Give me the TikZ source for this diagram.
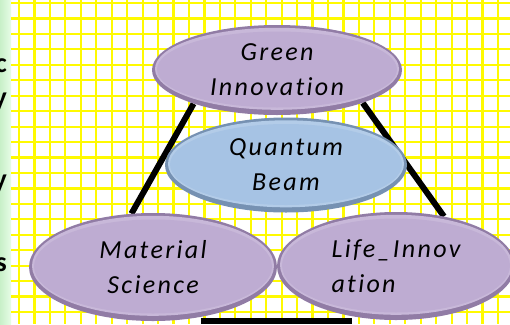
\documentclass[tikz,border=0pt]{standalone}
\usepackage{fontspec}
\setmainfont{Carlito}
\newfontfamily\ellfont[LetterSpace=9,Ligatures={NoCommon}]{Carlito}
\usetikzlibrary{shapes.geometric,backgrounds}
\definecolor{gridyellow}{RGB}{255,250,0}
\definecolor{lilac}{RGB}{190,172,210}
\definecolor{lilacdark}{RGB}{145,124,165}
\definecolor{skyb}{RGB}{166,195,228}
\definecolor{skybdark}{RGB}{118,145,178}
\definecolor{stripg}{RGB}{200,240,200}
\definecolor{stripg2}{RGB}{230,252,230}
\begin{document}
\begin{tikzpicture}[x=1pt,y=-1pt,
  ell/.style n args={4}{ellipse, inner sep=0pt, text=black,
    font=\ellfont\itshape\fontsize{26}{35}\selectfont, align=center,
    fill=#2, minimum width=#3, minimum height=#4,
    path picture={
      \fill[#1!85!white] ([yshift=1.2pt]path picture bounding box.center)
        ellipse [x radius={#3/2-3pt}, y radius={#4/2-4pt}];
      \fill[#1] ([yshift=0.5pt]path picture bounding box.center)
        ellipse [x radius={#3/2-5pt}, y radius={#4/2-7pt}];
    }},
  link/.style={line width=6pt, black},
  edgeletter/.style={font=\bfseries\fontsize{28}{28}\selectfont, anchor=base east, inner sep=0pt, text=black},
  gridline/.style={gridyellow, line width=2.2pt}]
\useasboundingbox (0,0) rectangle (510,324);
\clip (0,0) rectangle (510,324);

\node[ell={lilac}{lilacdark}{250pt}{90pt}] (green) at (277,70) {Green\\Innovation};
\node[ell={skyb}{skybdark}{242pt}{95pt}] (quantum) at (286,165) {Quantum\\Beam};
\node[ell={lilac}{lilacdark}{248pt}{108pt}] (mat) at (153,267) {Material\\Science};
\node[ell={lilac}{lilacdark}{238pt}{108pt}, align=left] (life) at (396,266) {Life\_Innov\\ation};

\begin{pgfonlayer}{background}
  \fill[white] (0,0) rectangle (510,324);
  \shade[left color=stripg, right color=stripg2] (0,0) rectangle (11,324);
  \foreach \i in {0,...,32} \draw[gridline] ({19+15.45*\i},0) -- ({19+15.45*\i},324);
  \foreach \j in {0,...,20} \draw[gridline] (11,{3+15.45*\j}) -- (510,{3+15.45*\j});
  \draw[link] (green.202) -- (mat.112);
  \draw[link] (green.339) -- (life.46);
  \node[edgeletter] (l1) at (7,72) {c};
  \node[edgeletter] (l2) at (7,106) {y};
  \node[edgeletter] (l3) at (7,188) {y};
  \node[edgeletter] (l4) at (7,271) {s};
\end{pgfonlayer}

\fill[black] (201,318) rectangle (352,324);
\end{tikzpicture}
\end{document}
